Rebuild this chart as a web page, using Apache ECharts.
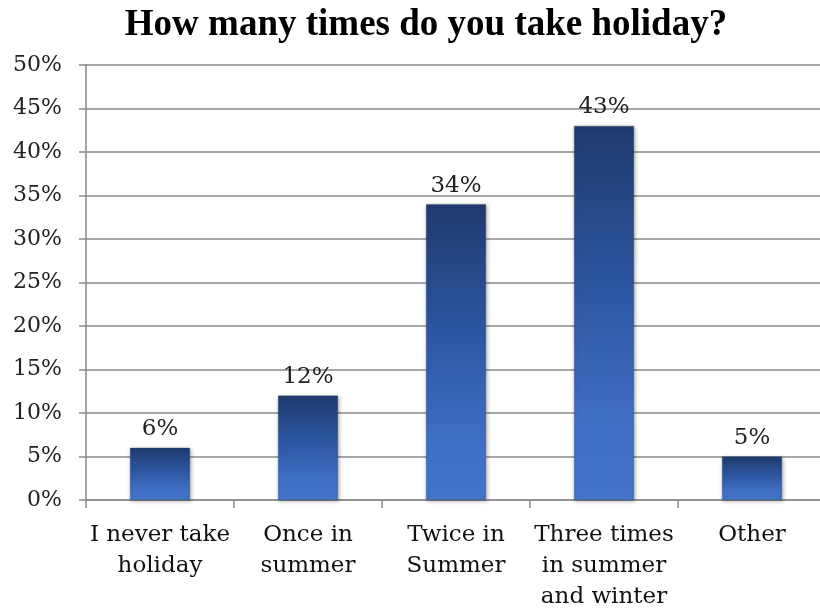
<!DOCTYPE html>
<html>
<head>
<meta charset="utf-8">
<script src="https://cdn.jsdelivr.net/npm/echarts@6/dist/echarts.min.js"></script>
<style>
  html, body { margin: 0; padding: 0; background: #ffffff; overflow: hidden; }
  /* the plot runs a little past the right edge of the window */
  #chart { width: 832px; height: 610px; }
</style>
</head>
<body>
<div id="chart"></div>
<script>
// Survey answers and their shares (%)
var categories = [
  'I never take\nholiday',
  'Once in\nsummer',
  'Twice in\nSummer',
  'Three times\nin summer\nand winter',
  'Other'
];
var shares = [6, 12, 34, 43, 5];
var yTicks = { min: 0, max: 50, step: 5 };

var titleFont = '"Liberation Serif", "DejaVu Serif", serif';
var bodyFont = '"DejaVu Serif", "Liberation Serif", serif';

var chart = echarts.init(document.getElementById('chart'), null, { renderer: 'canvas' });

chart.setOption({
  backgroundColor: '#ffffff',
  animation: false,
  title: {
    text: 'How many times do you take holiday?',
    left: 421,
    textAlign: 'center',
    top: 2,
    textStyle: {
      fontFamily: titleFont,
      fontWeight: 'bold',
      fontSize: 37,
      color: '#000000'
    }
  },
  grid: {
    left: 86,
    top: 65,
    width: 740,
    height: 435,
    containLabel: false,
    outerBoundsMode: 'none'
  },
  xAxis: {
    type: 'category',
    data: categories,
    axisLine: { show: true, lineStyle: { color: '#8a8a8a', width: 1.5 } },
    axisTick: { show: true, length: 8, lineStyle: { color: '#8a8a8a', width: 1.5 } },
    axisLabel: {
      interval: 0,
      margin: 20,
      fontFamily: bodyFont,
      fontSize: 23,
      lineHeight: 31,
      color: '#111111'
    }
  },
  yAxis: {
    type: 'value',
    min: yTicks.min,
    max: yTicks.max,
    interval: yTicks.step,
    axisLine: { show: true, lineStyle: { color: '#8a8a8a', width: 1.5 } },
    axisTick: { show: true, length: 7, lineStyle: { color: '#8a8a8a', width: 1.5 } },
    splitLine: { show: true, lineStyle: { color: '#8a8a8a', width: 1.5 } },
    axisLabel: {
      formatter: '{value}%',
      margin: 24,
      fontFamily: bodyFont,
      fontSize: 22,
      color: '#222222'
    }
  },
  series: [{
    type: 'bar',
    data: shares,
    barWidth: '40.5%',
    itemStyle: {
      color: new echarts.graphic.LinearGradient(0, 0, 0, 1, [
        { offset: 0, color: '#1f3a6d' },
        { offset: 0.45, color: '#2d57a2' },
        { offset: 0.8, color: '#3f6fc4' },
        { offset: 1, color: '#4474ca' }
      ]),
      borderColor: 'rgba(30,55,100,0.5)',
      borderWidth: 0.5,
      shadowColor: 'rgba(0,0,0,0.35)',
      shadowBlur: 4,
      shadowOffsetX: 1,
      shadowOffsetY: 1
    },
    label: {
      show: true,
      position: 'top',
      distance: 7,
      formatter: '{c}%',
      fontFamily: bodyFont,
      fontSize: 23,
      color: '#222222'
    }
  }]
});
</script>
</body>
</html>
